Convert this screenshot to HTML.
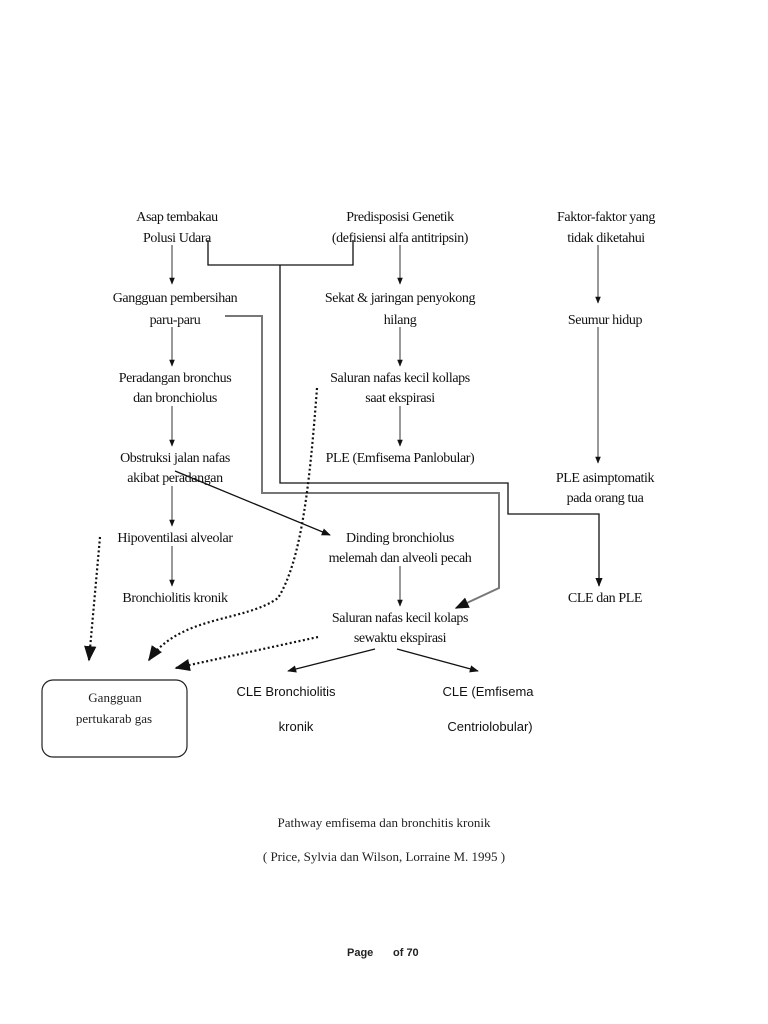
<!DOCTYPE html>
<html><head><meta charset="utf-8"><style>
html,body{margin:0;padding:0;background:#fff;}
svg{display:block}
.t{font-family:"Liberation Serif",serif;font-size:14px;fill:#111;text-anchor:middle;letter-spacing:-0.4px}
.s{font-family:"Liberation Sans",sans-serif;font-size:13px;fill:#111;text-anchor:middle}
</style></head><body>
<svg width="768" height="1024" viewBox="0 0 768 1024" xmlns="http://www.w3.org/2000/svg">
<defs>
<marker id="a" viewBox="0 0 10 10" refX="9" refY="5" markerWidth="7" markerHeight="7" orient="auto"><path d="M0,1 L10,5 L0,9 z" fill="#111"/></marker>
</defs>
<g class="t">
<text x="177" y="221">Asap tembakau</text>
<text x="177" y="242">Polusi Udara</text>
<text x="400" y="221">Predisposisi Genetik</text>
<text x="400" y="242">(defisiensi alfa antitripsin)</text>
<text x="606" y="221">Faktor-faktor yang</text>
<text x="606" y="242">tidak diketahui</text>
<text x="175" y="302">Gangguan pembersihan</text>
<text x="175" y="324">paru-paru</text>
<text x="400" y="302">Sekat &amp; jaringan penyokong</text>
<text x="400" y="324">hilang</text>
<text x="605" y="324">Seumur hidup</text>
<text x="175" y="382">Peradangan bronchus</text>
<text x="175" y="402">dan bronchiolus</text>
<text x="400" y="382">Saluran nafas kecil kollaps</text>
<text x="400" y="402">saat ekspirasi</text>
<text x="175" y="462">Obstruksi jalan nafas</text>
<text x="175" y="482">akibat peradangan</text>
<text x="400" y="462">PLE (Emfisema Panlobular)</text>
<text x="605" y="482">PLE asimptomatik</text>
<text x="605" y="502">pada orang tua</text>
<text x="175" y="542">Hipoventilasi alveolar</text>
<text x="400" y="542">Dinding bronchiolus</text>
<text x="400" y="562">melemah dan alveoli pecah</text>
<text x="175" y="602">Bronchiolitis kronik</text>
<text x="605" y="602">CLE dan PLE</text>
<text x="400" y="622">Saluran nafas kecil kolaps</text>
<text x="400" y="642">sewaktu ekspirasi</text>
</g>
<g class="s">
<text x="286" y="696">CLE Bronchiolitis</text>
<text x="296" y="731">kronik</text>
<text x="488" y="696">CLE (Emfisema</text>
<text x="490" y="731">Centriolobular)</text>
</g>
<rect x="42" y="680" width="145" height="77" rx="11" fill="none" stroke="#222" stroke-width="1.2"/>
<text x="115" y="702" style="font-family:'Liberation Serif',serif;font-size:13px;text-anchor:middle;fill:#222">Gangguan</text>
<text x="114" y="723" style="font-family:'Liberation Serif',serif;font-size:13px;text-anchor:middle;fill:#222">pertukarab gas</text>
<text x="384" y="827" style="font-family:'Liberation Serif',serif;font-size:13px;text-anchor:middle;fill:#222">Pathway emfisema dan bronchitis kronik</text>
<text x="384" y="861" style="font-family:'Liberation Serif',serif;font-size:13px;text-anchor:middle;fill:#222">( Price, Sylvia dan Wilson, Lorraine M. 1995 )</text>
<text x="347" y="956" style="font-family:'Liberation Sans',sans-serif;font-size:11px;font-weight:bold;fill:#222">Page</text>
<text x="393" y="956" style="font-family:'Liberation Sans',sans-serif;font-size:11px;font-weight:bold;fill:#222">of 70</text>
<g stroke="#333" stroke-width="1" fill="none" marker-end="url(#a)">
<line x1="172" y1="245" x2="172" y2="284"/>
<line x1="172" y1="327" x2="172" y2="366"/>
<line x1="172" y1="406" x2="172" y2="446"/>
<line x1="172" y1="486" x2="172" y2="526"/>
<line x1="172" y1="546" x2="172" y2="586"/>
<line x1="400" y1="245" x2="400" y2="284"/>
<line x1="400" y1="327" x2="400" y2="366"/>
<line x1="400" y1="406" x2="400" y2="446"/>
<line x1="400" y1="566" x2="400" y2="606"/>
<line x1="598" y1="245" x2="598" y2="303"/>
<line x1="598" y1="327" x2="598" y2="463"/>
</g>
<g stroke="#111" stroke-width="1.3" fill="none">
<polyline points="208,240 208,265 353,265 353,240"/>
<polyline points="280,265 280,483 508,483 508,514 599,514 599,586" marker-end="url(#a)"/>
<line x1="175" y1="471" x2="330" y2="535" marker-end="url(#a)"/>
<line x1="375" y1="649" x2="288" y2="671" marker-end="url(#a)"/>
<line x1="397" y1="649" x2="478" y2="671" marker-end="url(#a)"/>
</g>
<polyline points="225,316 262,316 262,493 499,493 499,588 456,608" stroke="#777" stroke-width="2" fill="none" marker-end="url(#a)"/>
<g stroke="#111" stroke-width="2.2" stroke-dasharray="2,2.5" fill="none" marker-end="url(#a)">
<path d="M317,388 C310,480 302,560 278,598 C245,622 180,615 149,660"/>
<path d="M100,537 L89,660"/>
<path d="M318,637 L176,668"/>
</g>
</svg>
</body></html>
